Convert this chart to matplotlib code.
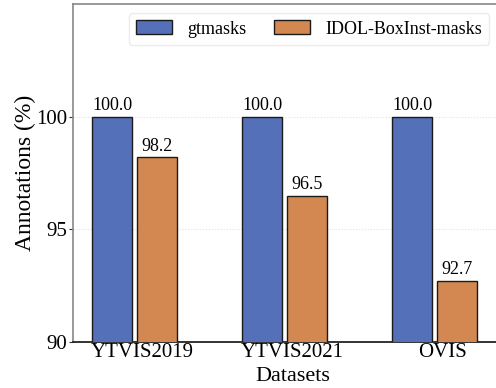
import matplotlib
matplotlib.use("Agg")
import matplotlib.pyplot as plt
import numpy as np

datasets = ["YTVIS2019", "YTVIS2021", "OVIS"]
gtmasks = [100.0, 100.0, 100.0]
idol_boxinst = [98.2, 96.5, 92.7]
series_names = ["gtmasks", "IDOL-BoxInst-masks"]
colors = ["#5470b8", "#d38852"]

plt.rcParams["font.family"] = ["Liberation Serif", "DejaVu Serif"]

fig = plt.figure(figsize=(4.96, 3.88), dpi=100)
ax = fig.add_axes([72.5 / 496, 1 - 342 / 388, 440 / 496, 338 / 388])

x = np.arange(len(datasets))
width = 0.27
offset = 0.30
b1 = ax.bar(x, gtmasks, width, color=colors[0], edgecolor="#1a1a1a",
            linewidth=1.0, label=series_names[0], zorder=3)
b2 = ax.bar(x + offset, idol_boxinst, width, color=colors[1], edgecolor="#1a1a1a",
            linewidth=1.0, label=series_names[1], zorder=3)

for bars, vals in ((b1, gtmasks), (b2, idol_boxinst)):
    for rect, v in zip(bars, vals):
        ax.text(rect.get_x() + rect.get_width() / 2, v + 0.12, f"{v:.1f}",
                ha="center", va="bottom", fontsize=13)

ax.set_ylim(90, 105)
ax.set_yticks([90, 95, 100])
ax.set_xlim(-0.265, 2.67)
ax.set_xticks(x + 0.2)
ax.set_xticklabels(datasets)
ax.tick_params(axis="both", labelsize=15)
ax.tick_params(axis="x", length=0, pad=1)
ax.tick_params(axis="y", length=3, width=0.8, color="#333333", pad=1)

ax.yaxis.grid(True, linestyle=":", color="#dde0ee", linewidth=0.8, zorder=0)
ax.set_axisbelow(True)

for s in ("left", "top", "right"):
    ax.spines[s].set_color("#888888")
    ax.spines[s].set_linewidth(1.2)
ax.spines["bottom"].set_color("#111111")
ax.spines["bottom"].set_linewidth(1.2)

ax.set_ylabel("Annotations (%)", fontsize=17, labelpad=0)
ax.set_xlabel("Datasets", fontsize=16, labelpad=3)

leg = ax.legend(ncol=2, loc="upper right", bbox_to_anchor=(0.947, 0.973),
                borderaxespad=0.0,
                fontsize=13, frameon=True, fancybox=True, edgecolor="#e6e6e6",
                handlelength=2.0, handleheight=0.8, columnspacing=1.5,
                borderpad=0.4, handletextpad=0.85)

fig.savefig("out.png", dpi=100)
